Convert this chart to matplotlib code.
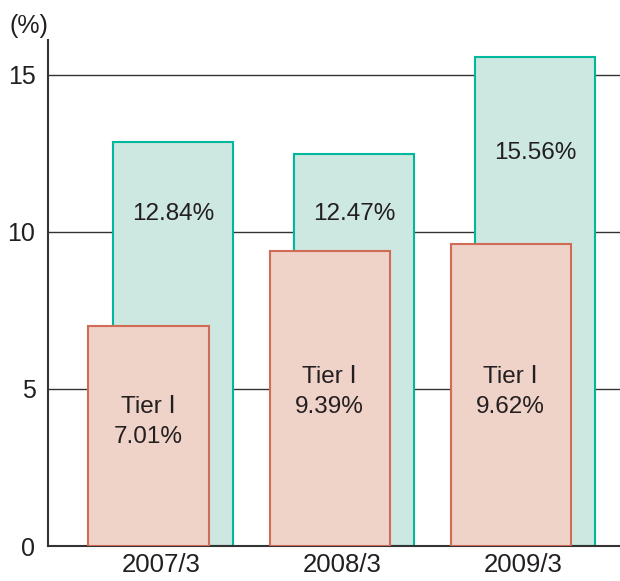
import numpy as np
import matplotlib
matplotlib.use('Agg')
import matplotlib.pyplot as plt

years = ['2007/3', '2008/3', '2009/3']
total_ratio = [12.84, 12.47, 15.56]
tier1_ratio = [7.01, 9.39, 9.62]
y_ticks = [0, 5, 10, 15]

# where the labels sit inside the bars (data units)
total_label_y = [10.55, 10.55, 12.5]
tier1_label_y = [3.95, 4.9, 4.9]

plt.rcParams['font.family'] = ['Liberation Sans', 'DejaVu Sans']
txt = '#231f20'

fig = plt.figure(figsize=(6.2, 5.81), dpi=100)
ax = fig.add_axes([0.0774, 0.0602, 0.9226, 0.871])

x = np.arange(len(years))
w = 0.663
off = 0.0677

ax.bar(x + off, total_ratio, w, color='#cde7e1', edgecolor='#00b89c', linewidth=1.5, zorder=2)
ax.bar(x - off, tier1_ratio, w, color='#efd2c8', edgecolor='#d06b55', linewidth=1.5, zorder=3)

for i in range(len(years)):
    ax.text(x[i] + off, total_label_y[i], '%.2f%%' % total_ratio[i], ha='center', va='center',
            fontsize=17.5, color=txt, zorder=4)
    ax.text(x[i] - off, tier1_label_y[i], 'Tier \u2160\n%.2f%%' % tier1_ratio[i], ha='center', va='center',
            fontsize=17.5, color=txt, linespacing=1.45, zorder=4)

ax.set_xlim(-0.623, 2.537)
ax.set_ylim(0, 16.1)
ax.set_yticks(y_ticks)
ax.set_xticks(x)
ax.set_xticklabels(years, fontsize=18.5)
ax.tick_params(axis='both', length=0, colors=txt)
ax.tick_params(axis='y', labelsize=18, pad=9)
ax.tick_params(axis='x', pad=5)
ax.yaxis.grid(True, color='#333333', linewidth=1.0, zorder=1)
ax.set_axisbelow(True)

for s in ['top', 'right']:
    ax.spines[s].set_visible(False)
for s in ['left', 'bottom']:
    ax.spines[s].set_color('#333333')
    ax.spines[s].set_linewidth(1.5)

fig.text(0.016, 0.955, '(%)', fontsize=18, color=txt, ha='left', va='center')

fig.savefig('out.png', dpi=100)
